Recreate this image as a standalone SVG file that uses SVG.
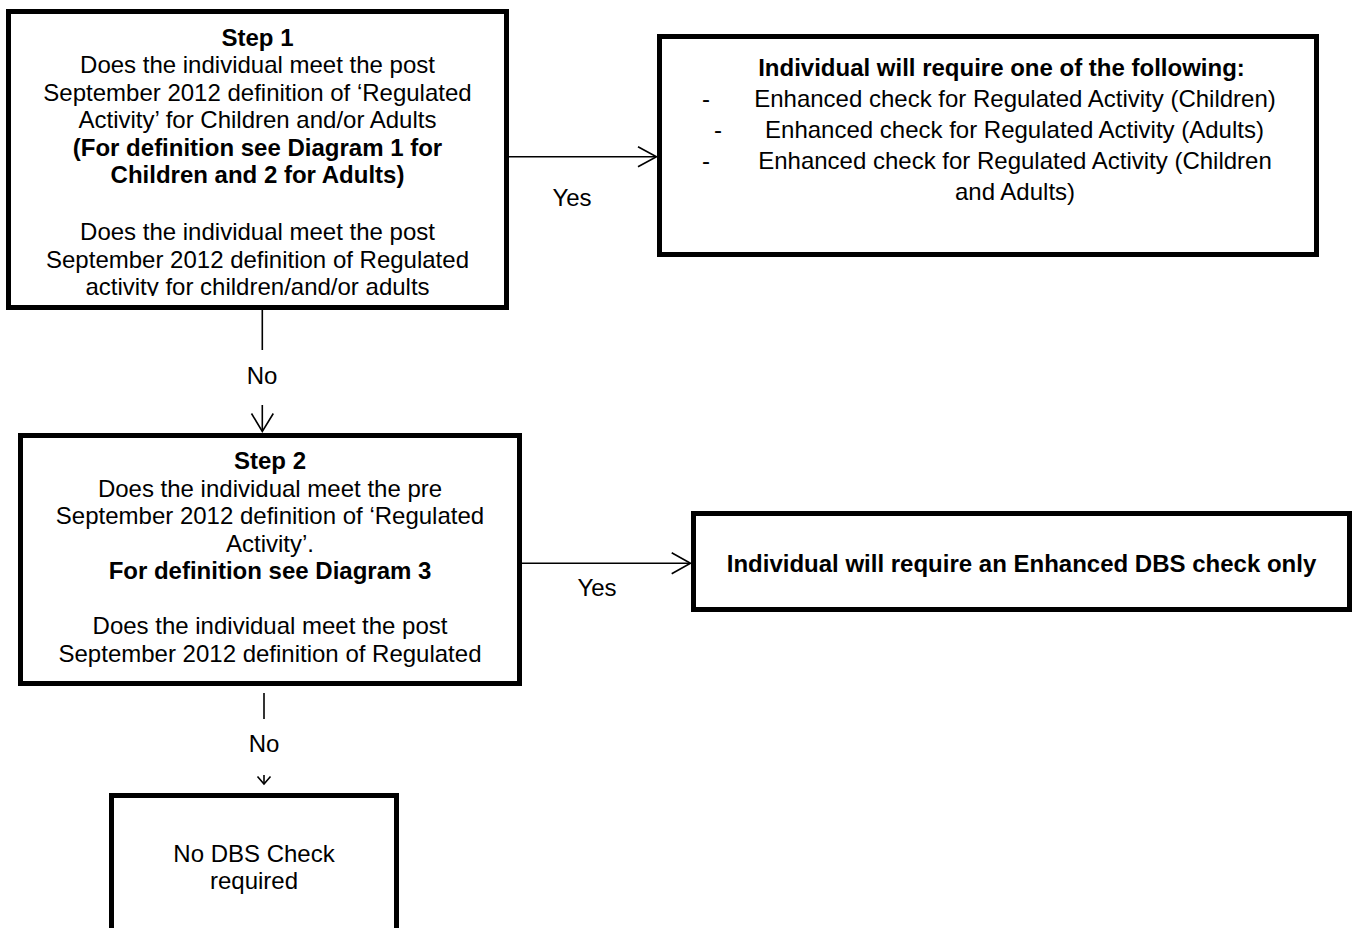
<svg xmlns="http://www.w3.org/2000/svg" width="1354" height="928" viewBox="0 0 1354 928">
<style>
.box{fill:#fff;stroke:#000;stroke-width:5}
.t{font-family:"Liberation Sans",Arial,sans-serif;font-size:24px;fill:#000;text-anchor:middle}
.b{font-weight:bold}
.c{fill:none;stroke:#000;stroke-width:1.6}
</style>
<defs>
<clipPath id="clip1"><rect x="11" y="14" width="493" height="282"/></clipPath>
</defs>
<rect width="1354" height="928" fill="#fff"/>
<g id="connectors">
<line class="c" x1="509" y1="156.7" x2="656" y2="156.7"/>
<polyline class="c" points="638,146.7 656.5,156.7 638,166.7"/>
<text class="t" x="572" y="206">Yes</text>
<line class="c" x1="262.3" y1="310" x2="262.3" y2="350"/>
<text class="t" x="262" y="384">No</text>
<line class="c" x1="262.3" y1="405" x2="262.3" y2="431"/>
<polyline class="c" points="251.5,413.5 262.3,431.5 273.3,413.5"/>
<line class="c" x1="522" y1="563.3" x2="690" y2="563.3"/>
<polyline class="c" points="671.7,552.8 690.5,563.3 671.7,573.8"/>
<text class="t" x="597" y="596">Yes</text>
<line class="c" x1="264" y1="693" x2="264" y2="719"/>
<text class="t" x="264" y="752">No</text>
<line class="c" x1="264" y1="775" x2="264" y2="783"/>
<polyline class="c" points="257.5,776.5 264,784 270.5,776.5"/>
</g>
<g id="step1">
<rect class="box" x="8.5" y="11.5" width="498" height="296"/>
<text class="t b" x="257.5" y="45.5">Step 1</text>
<text class="t" x="257.5" y="73">Does the individual meet the post</text>
<text class="t" x="257.5" y="100.5">September 2012 definition of ‘Regulated</text>
<text class="t" x="257.5" y="128">Activity’ for Children and/or Adults</text>
<text class="t b" x="257.5" y="155.5">(For definition see Diagram 1 for</text>
<text class="t b" x="257.5" y="183">Children and 2 for Adults)</text>
<text class="t" x="257.5" y="240">Does the individual meet the post</text>
<text class="t" x="257.5" y="267.5">September 2012 definition of Regulated</text>
<text class="t" x="257.5" y="295" clip-path="url(#clip1)">activity for children/and/or adults</text>
</g>
<g id="result1">
<rect class="box" x="659.5" y="36.5" width="657" height="218"/>
<text class="t b" x="1001.5" y="76">Individual will require one of the following:</text>
<text class="t" x="706" y="107">-</text>
<text class="t" x="1015" y="107">Enhanced check for Regulated Activity (Children)</text>
<text class="t" x="718" y="138">-</text>
<text class="t" x="1014.5" y="138">Enhanced check for Regulated Activity (Adults)</text>
<text class="t" x="706" y="169">-</text>
<text class="t" x="1015" y="169">Enhanced check for Regulated Activity (Children</text>
<text class="t" x="1015" y="200">and Adults)</text>
</g>
<g id="step2">
<rect class="box" x="20.5" y="435.5" width="499" height="248"/>
<text class="t b" x="270" y="469">Step 2</text>
<text class="t" x="270" y="496.5">Does the individual meet the pre</text>
<text class="t" x="270" y="524">September 2012 definition of ‘Regulated</text>
<text class="t" x="270" y="551.5">Activity’.</text>
<text class="t b" x="270" y="579">For definition see Diagram 3</text>
<text class="t" x="270" y="634">Does the individual meet the post</text>
<text class="t" x="270" y="661.5">September 2012 definition of Regulated</text>
</g>
<g id="result2">
<rect class="box" x="693.5" y="513.5" width="656" height="96"/>
<text class="t b" x="1021.5" y="572">Individual will require an Enhanced DBS check only</text>
</g>
<g id="result3">
<rect class="box" x="111.5" y="795.5" width="285" height="200"/>
<text class="t" x="254" y="862">No DBS Check</text>
<text class="t" x="254" y="889">required</text>
</g>
</svg>
